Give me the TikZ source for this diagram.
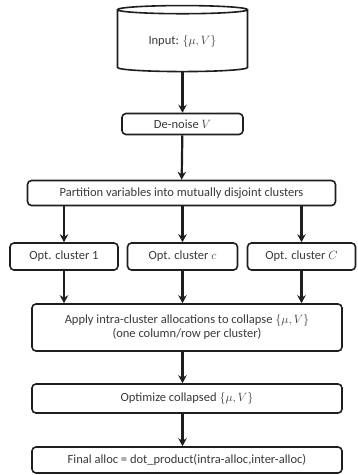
\documentclass[tikz,border=0pt]{standalone}
\usepackage{fontspec}
\setmainfont{Carlito}
\usepackage{tikz}
\usetikzlibrary{arrows.meta, positioning, shapes.geometric}
\definecolor{ink}{HTML}{1E1E1E}
\definecolor{txt}{HTML}{3A3A3A}
\tikzset{
  % Flow boxes
  flowbox/.style={
    draw=ink, fill=white, rounded corners=4pt, line width=1.6pt,
    inner sep=2pt, font=\fontsize{12.5}{14}\selectfont, text=txt,
    align=center,
  },
  % Input store
  store/.style={
    draw=ink, fill=white, line width=1.6pt, shape=cylinder,
    shape border rotate=90, aspect=0.12, inner sep=0pt,
    font=\fontsize{12.5}{14}\selectfont, text=txt,
  },
  % Arrows
  flow/.style={-{Stealth[length=8pt, width=8.5pt]}, line width=2.2pt, ink},
}

\begin{document}
\begin{tikzpicture}[x=1pt, y=1pt]
\useasboundingbox (0,0) rectangle (357,-475);

% ====================================================================
% Input and de-noising
% ====================================================================
\node[store, minimum width=130pt, minimum height=66pt] (input)
  at (182.5,-41) {\raisebox{-6pt}{Input: $\{\mu,V\}$}};
\node[flowbox, minimum width=121pt, minimum height=21pt] (denoise)
  at (182.5,-124) {De-noise $V$};
\draw[flow] (input) -- (denoise);

% ====================================================================
% Partition
% ====================================================================
\node[flowbox, minimum width=308pt, minimum height=25pt] (partition)
  at (181.5,-193) {Partition variables into mutually disjoint clusters};
\draw[flow] (denoise) -- (partition);

% ====================================================================
% Per-cluster optimization
% ====================================================================
\node[flowbox, minimum width=108pt, minimum height=27pt] (opt1)
  at (64,-256.5) {Opt. cluster 1};
\node[flowbox, minimum width=110pt, minimum height=27pt] (optc)
  at (182.5,-256.5) {Opt. cluster $c$};
\node[flowbox, minimum width=108pt, minimum height=27pt] (optC)
  at (301.5,-256.5) {Opt. cluster $C$};

\foreach \dest in {opt1, optc, optC} {
  \draw[flow] (partition.south -| \dest) -- (\dest);
}

% ====================================================================
% Collapse
% ====================================================================
\node[flowbox, minimum width=310pt, minimum height=47pt] (collapse)
  at (187,-327.5)
  {Apply intra-cluster allocations to collapse $\{\mu,V\}$\\
   (one column/row per cluster)};

\foreach \src in {opt1, optc, optC} {
  \draw[flow] (\src) -- (\src |- collapse.north);
}

% ====================================================================
% Optimize collapsed, final allocation
% ====================================================================
\node[flowbox, minimum width=310pt, minimum height=29pt] (optimize)
  at (187,-398.5) {Optimize collapsed $\{\mu,V\}$};
\draw[flow] (collapse.south -| optc) -- (optimize.north -| optc);

\node[flowbox, minimum width=310pt, minimum height=26pt] (final)
  at (187,-460) {Final alloc = dot\_product(intra-alloc,inter-alloc)};
\draw[flow] (optimize.south -| optc) -- (final.north -| optc);

\end{tikzpicture}
\end{document}
